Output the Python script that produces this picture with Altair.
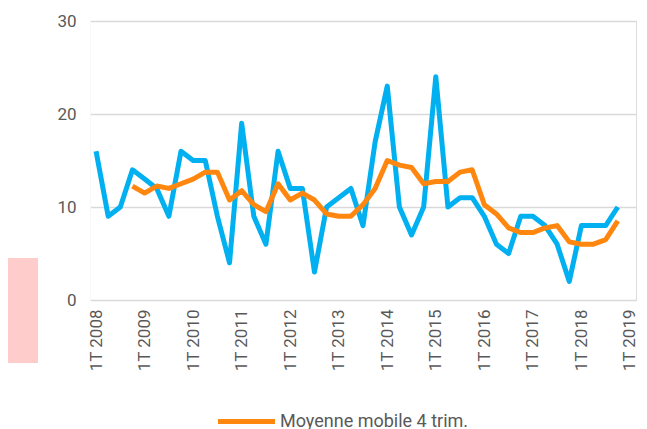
import altair as alt
import pandas as pd

years = list(range(2008, 2020))
quarters = [f"{q}T {y}" for y in years for q in range(1, 5)][:45]

serie = [16, 9, 10, 14, 13, 12, 9, 16, 15, 15,
         9, 4, 19, 9, 6, 16, 12, 12, 3, 10,
         11, 12, 8, 17, 23, 10, 7, 10, 24, 10,
         11, 11, 9, 6, 5, 9, 9, 8, 6, 2,
         8, 8, 8, 10, None]

moyenne = [None, None, None, 12.25, 11.5, 12.25, 12, 12.5, 13, 13.75,
           13.75, 10.75, 11.75, 10.25, 9.5, 12.5, 10.75, 11.5, 10.75, 9.25,
           9, 9, 10.25, 12, 15, 14.5, 14.25, 12.5, 12.75, 12.75,
           13.75, 14, 10.25, 9.25, 7.75, 7.25, 7.25, 7.75, 8, 6.25,
           6, 6, 6.5, 8.5, None]

label_ma = "Moyenne mobile 4 trim."
year_labels = [f"1T {y}" for y in years]

df = pd.DataFrame({"trimestre": quarters, "valeur": serie, "moyenne": moyenne})
df["serie_ma"] = label_ma

FONT = "Roboto"
GREY = "#595959"

x_enc = alt.X(
    "trimestre:O",
    sort=quarters,
    scale=alt.Scale(domain=quarters, type="point", padding=0.5),
    axis=alt.Axis(
        values=year_labels,
        labelAngle=-90,
        title=None,
        ticks=False,
        domain=False,
        grid=False,
        labelPadding=9,
        labelFontSize=17,
        labelColor=GREY,
        labelFont=FONT,
    ),
)

y_axis = alt.Axis(
    values=[0, 10, 20, 30],
    title=None,
    ticks=False,
    domain=False,
    grid=True,
    gridColor="#D9D9D9",
    gridWidth=1.5,
    labelPadding=14,
    labelFontSize=17,
    labelColor=GREY,
    labelFont=FONT,
)
y_scale = alt.Scale(domain=[0, 30], nice=False)

base = alt.Chart(df)

blue = base.mark_line(color="#00B0F0", strokeWidth=5, strokeJoin="round").encode(
    x=x_enc,
    y=alt.Y("valeur:Q", scale=y_scale, axis=y_axis),
)

orange = base.mark_line(strokeWidth=5, strokeJoin="round").encode(
    x=x_enc,
    y=alt.Y("moyenne:Q", scale=y_scale, axis=y_axis),
    color=alt.Color(
        "serie_ma:N",
        scale=alt.Scale(domain=[label_ma], range=["#FF870F"]),
        legend=alt.Legend(
            title=None,
            orient="none",
            legendX=125,
            legendY=369,
            padding=0,
            symbolType="stroke",
            symbolSize=3250,
            symbolStrokeWidth=5,
            labelFontSize=18,
            labelColor=GREY,
            labelFont=FONT,
            labelOffset=2,
            labelLimit=0,
        ),
    ),
)

pink = alt.Chart(pd.DataFrame({"k": [0]})).mark_rect(color="#FFCCCC", strokeWidth=0).encode(
    x=alt.value(-82), x2=alt.value(-52), y=alt.value(237), y2=alt.value(342)
)

# white cover over a stray vertical edge at the plot's left border
cover = alt.Chart(pd.DataFrame({"k": [0]})).mark_rule(color="white", strokeWidth=2.5).encode(
    x=alt.value(-0.5), y=alt.value(-2), y2=alt.value(281)
)

chart = (
    alt.layer(blue, orange, pink, cover)
    .properties(
        width=546,
        height=279,
        autosize=alt.AutoSizeParams(type="none"),
        padding={"left": 82, "top": 13, "right": 3, "bottom": 129},
    )
    .configure_view(strokeWidth=0, strokeOpacity=0)
    .configure_axis(domain=False, ticks=False)
    .configure_axisX(grid=False)
    .configure(font=FONT)
)

chart.save("out.html", embed_options={"renderer": "svg", "actions": False})
